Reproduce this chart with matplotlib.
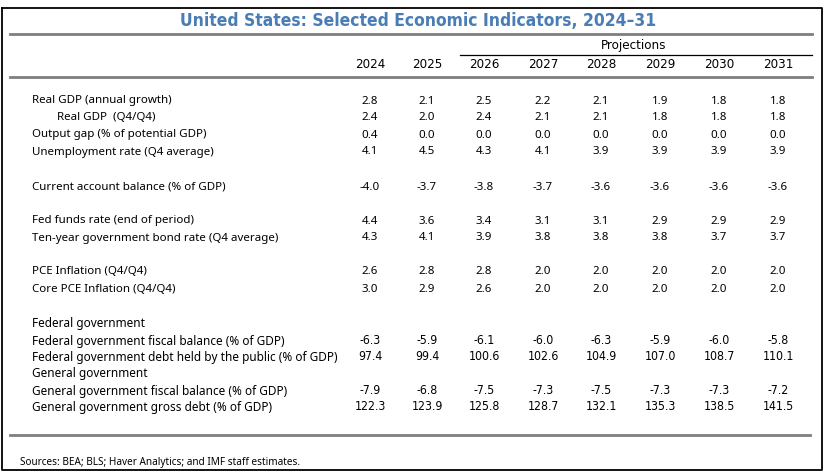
import matplotlib
matplotlib.use("Agg")
import matplotlib.pyplot as plt

years = ["2024", "2025", "2026", "2027", "2028", "2029", "2030", "2031"]

# upper block
top_labels = [
    "Real GDP (annual growth)",
    "Real GDP  (Q4/Q4)",
    "Output gap (% of potential GDP)",
    "Unemployment rate (Q4 average)",
    "Current account balance (% of GDP)",
    "Fed funds rate (end of period)",
    "Ten-year government bond rate (Q4 average)",
    "PCE Inflation (Q4/Q4)",
    "Core PCE Inflation (Q4/Q4)",
]
top_values = [
    ["2.8", "2.1", "2.5", "2.2", "2.1", "1.9", "1.8", "1.8"],
    ["2.4", "2.0", "2.4", "2.1", "2.1", "1.8", "1.8", "1.8"],
    ["0.4", "0.0", "0.0", "0.0", "0.0", "0.0", "0.0", "0.0"],
    ["4.1", "4.5", "4.3", "4.1", "3.9", "3.9", "3.9", "3.9"],
    ["-4.0", "-3.7", "-3.8", "-3.7", "-3.6", "-3.6", "-3.6", "-3.6"],
    ["4.4", "3.6", "3.4", "3.1", "3.1", "2.9", "2.9", "2.9"],
    ["4.3", "4.1", "3.9", "3.8", "3.8", "3.8", "3.7", "3.7"],
    ["2.6", "2.8", "2.8", "2.0", "2.0", "2.0", "2.0", "2.0"],
    ["3.0", "2.9", "2.6", "2.0", "2.0", "2.0", "2.0", "2.0"],
]

# lower block
bottom_labels = [
    "Federal government",
    "Federal government fiscal balance (% of GDP)",
    "Federal government debt held by the public (% of GDP)",
    "General government",
    "General government fiscal balance (% of GDP)",
    "General government gross debt (% of GDP)",
]
bottom_values = [
    None,
    ["-6.3", "-5.9", "-6.1", "-6.0", "-6.3", "-5.9", "-6.0", "-5.8"],
    ["97.4", "99.4", "100.6", "102.6", "104.9", "107.0", "108.7", "110.1"],
    None,
    ["-7.9", "-6.8", "-7.5", "-7.3", "-7.5", "-7.3", "-7.3", "-7.2"],
    ["122.3", "123.9", "125.8", "128.7", "132.1", "135.3", "138.5", "141.5"],
]

title = "United States: Selected Economic Indicators, 2024\u201331"
source = "Sources: BEA; BLS; Haver Analytics; and IMF staff estimates."

regular = "Noto Sans"
cond = dict(family="DejaVu Sans", stretch="condensed")

fig = plt.figure(figsize=(8.25, 4.75), dpi=100)
ax = fig.add_axes([0, 0, 1, 1])
ax.set_xlim(0, 825)
ax.set_ylim(475, 0)
ax.axis("off")

# outer frame
ax.plot([2, 822, 822, 2, 2], [8, 8, 470, 470, 8], color="black", lw=1.3)

ax.text(418, 21, title, ha="center", va="center", fontsize=12.5, fontweight="bold",
        color="#4a7db5", **cond)
ax.plot([10, 812], [34, 34], color="#7f7f7f", lw=2)

col_x = [370, 427, 484, 543, 601, 660, 719, 778]

ax.text(634, 45, "Projections", ha="center", va="center", fontsize=9.5, **cond)
ax.plot([460, 812], [55, 55], color="black", lw=0.9)
for x, y in zip(col_x, years):
    ax.text(x, 65, y, ha="center", va="center", fontsize=9.5, **cond)
ax.plot([10, 812], [77, 77], color="#7f7f7f", lw=2)

top_y = [101, 118, 135, 152, 187, 221, 238, 272, 289]
for i, (lab, vals) in enumerate(zip(top_labels, top_values)):
    lx = 57 if i == 1 else 32
    ax.text(lx, top_y[i], lab, ha="left", va="center", fontsize=8.3, family=regular)
    for x, v in zip(col_x, vals):
        ax.text(x, top_y[i], v, ha="center", va="center", fontsize=8.3, family=regular)

bot_y = [324, 341, 357, 374, 391, 407]
for i, (lab, vals) in enumerate(zip(bottom_labels, bottom_values)):
    ax.text(32, bot_y[i], lab, ha="left", va="center", fontsize=8.5, family=regular)
    if vals is None:
        continue
    for x, v in zip(col_x, vals):
        ax.text(x, bot_y[i], v, ha="center", va="center", fontsize=8.8, **cond)

ax.plot([10, 810], [435, 435], color="#7f7f7f", lw=2)
ax.text(20, 462, source, ha="left", va="center", fontsize=7.2, family=regular)

fig.savefig("out.png", dpi=100)
